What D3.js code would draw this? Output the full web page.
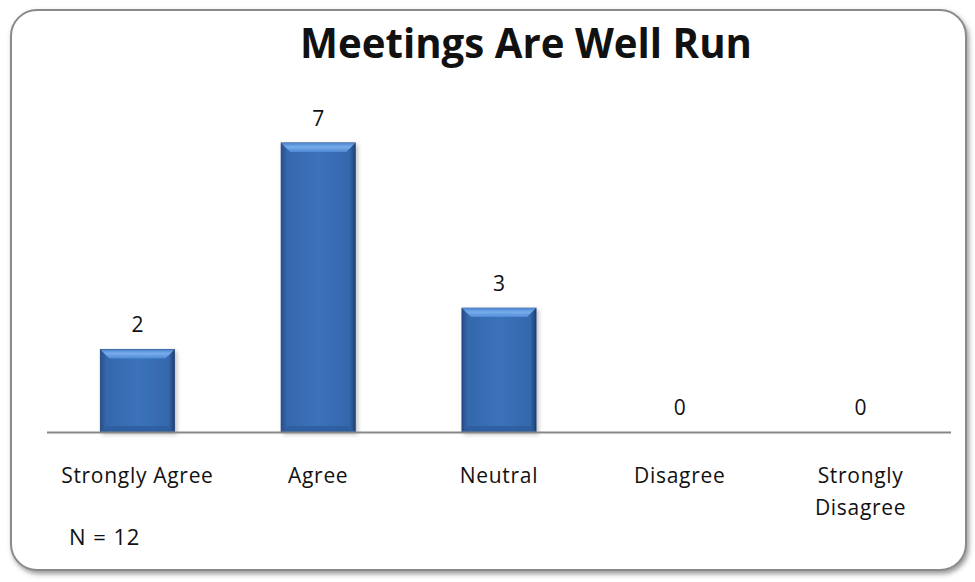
<!DOCTYPE html>
<html>
<head>
<meta charset="utf-8">
<script src="https://cdn.jsdelivr.net/npm/d3@7"></script>
<style>
  body { margin: 0; background: #fff; }
  text { font-family: 'Open Sans', 'Noto Sans', sans-serif; fill: #111; }
</style>
</head>
<body>
<div id="chart"></div>
<script>
const categories = ['Strongly Agree', 'Agree', 'Neutral', 'Disagree', 'Strongly Disagree'];
const counts = [2, 7, 3, 0, 0];
const chartTitle = 'Meetings Are Well Run';
const note = 'N = 12';

const width = 975;
const height = 582;
const baseY = 432;

const svg = d3.select('#chart')
  .append('svg')
  .attr('width', width)
  .attr('height', height);

const defs = svg.append('defs');

const shadow = defs.append('filter')
  .attr('id', 'frameShadow')
  .attr('x', '-5%').attr('y', '-5%')
  .attr('width', '110%').attr('height', '110%');
shadow.append('feDropShadow')
  .attr('dx', 2).attr('dy', 3)
  .attr('stdDeviation', 2.5)
  .attr('flood-color', '#555')
  .attr('flood-opacity', 0.6);

const barShadow = defs.append('filter')
  .attr('id', 'barShadow')
  .attr('x', '-20%').attr('y', '-10%')
  .attr('width', '140%').attr('height', '120%');
barShadow.append('feDropShadow')
  .attr('dx', 2).attr('dy', 2)
  .attr('stdDeviation', 2)
  .attr('flood-color', '#000')
  .attr('flood-opacity', 0.25);

const barGrad = defs.append('linearGradient')
  .attr('id', 'barGrad')
  .attr('x1', 0).attr('x2', 1).attr('y1', 0).attr('y2', 0);
[['0%', '#274f8a'], ['8%', '#3568ad'], ['50%', '#3b72ba'], ['92%', '#3568ad'], ['100%', '#1f4275']]
  .forEach(([o, c]) => barGrad.append('stop').attr('offset', o).attr('stop-color', c));

const topGrad = defs.append('linearGradient')
  .attr('id', 'topGrad')
  .attr('x1', 0).attr('x2', 0).attr('y1', 0).attr('y2', 1);
[['0%', '#4a84cf'], ['45%', '#78adec'], ['100%', '#4f8ad4']]
  .forEach(([o, c]) => topGrad.append('stop').attr('offset', o).attr('stop-color', c));

// frame
svg.append('rect')
  .attr('x', 11).attr('y', 10)
  .attr('width', 955).attr('height', 560)
  .attr('rx', 26).attr('ry', 26)
  .attr('fill', '#fff')
  .attr('stroke', '#8a8a8a')
  .attr('stroke-width', 2)
  .attr('filter', 'url(#frameShadow)');

// scales
const x = d3.scaleBand()
  .domain(categories)
  .range([47, 951])
  .paddingInner(0.59)
  .paddingOuter(0.295);

const y = d3.scaleLinear()
  .domain([0, 8])
  .range([baseY, baseY - 8 * 41.3]);

// title
svg.append('text')
  .attr('x', 526)
  .attr('y', 58)
  .attr('text-anchor', 'middle')
  .attr('font-size', 41)
  .attr('font-weight', 'bold')
  .attr('textLength', 452)
  .attr('lengthAdjust', 'spacingAndGlyphs')
  .text(chartTitle);

// bars
const bars = svg.append('g')
  .selectAll('g')
  .data(categories.map((c, i) => ({ cat: c, v: counts[i] })).filter(d => d.v > 0))
  .enter()
  .append('g')
  .attr('filter', 'url(#barShadow)');

bars.append('rect')
  .attr('x', d => x(d.cat))
  .attr('y', d => y(d.v))
  .attr('width', x.bandwidth())
  .attr('height', d => y(0) - y(d.v))
  .attr('fill', 'url(#barGrad)')
  .attr('stroke', '#1d3f70')
  .attr('stroke-width', 0.8);

// bevel on top
const bev = 9;
bars.append('path')
  .attr('d', d => {
    const x0 = x(d.cat), x1 = x0 + x.bandwidth(), t = y(d.v);
    return `M${x0},${t}L${x1},${t}L${x1 - bev},${t + bev}L${x0 + bev},${t + bev}Z`;
  })
  .attr('fill', 'url(#topGrad)');

// bottom bevel (slightly darker)
bars.append('path')
  .attr('d', d => {
    const x0 = x(d.cat), x1 = x0 + x.bandwidth(), b = y(0);
    return `M${x0},${b}L${x1},${b}L${x1 - 6},${b - 6}L${x0 + 6},${b - 6}Z`;
  })
  .attr('fill', '#2d5c9d')
  .attr('opacity', 0.8);

// axis line
svg.append('line')
  .attr('x1', x.range()[0]).attr('x2', x.range()[1])
  .attr('y1', baseY + 0.5).attr('y2', baseY + 0.5)
  .attr('stroke', '#888')
  .attr('stroke-width', 2);

// value labels
svg.append('g')
  .selectAll('text')
  .data(categories.map((c, i) => ({ cat: c, v: counts[i] })))
  .enter()
  .append('text')
  .attr('x', d => x(d.cat) + x.bandwidth() / 2)
  .attr('y', d => y(d.v) - 17)
  .attr('text-anchor', 'middle')
  .attr('font-size', 21)
  .text(d => d.v);

// category labels (wrap two-word "Strongly Disagree")
const catLabels = svg.append('g')
  .selectAll('text')
  .data(categories)
  .enter()
  .append('text')
  .attr('x', d => x(d) + x.bandwidth() / 2)
  .attr('y', 483)
  .attr('text-anchor', 'middle')
  .attr('font-size', 21)
  .attr('letter-spacing', 0.7);

catLabels.each(function (d) {
  const el = d3.select(this);
  const lines = d === 'Strongly Disagree' ? d.split(' ') : [d];
  lines.forEach((l, i) => {
    el.append('tspan')
      .attr('x', x(d) + x.bandwidth() / 2)
      .attr('dy', i === 0 ? 0 : 32)
      .text(l);
  });
});

// N note
svg.append('text')
  .attr('x', 69)
  .attr('y', 545)
  .attr('font-size', 22)
  .attr('word-spacing', 1)
  .attr('letter-spacing', 0.5)
  .text(note);
</script>
</body>
</html>
